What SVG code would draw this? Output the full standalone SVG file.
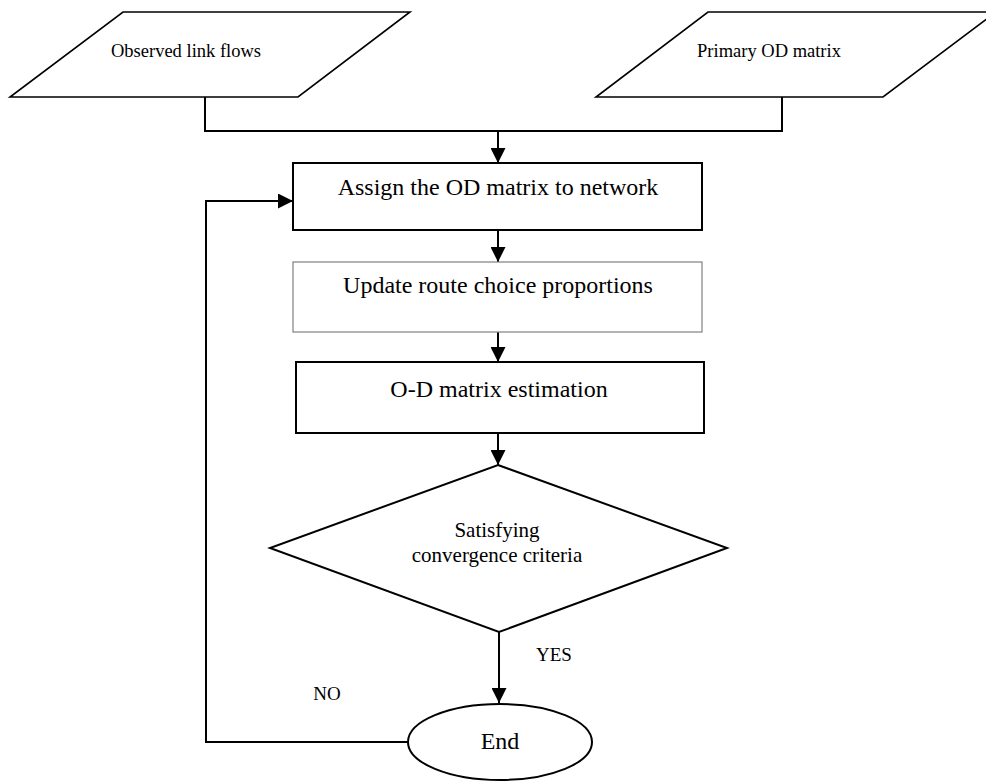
<svg xmlns="http://www.w3.org/2000/svg" width="986" height="781" viewBox="0 0 986 781">
<style>
.shape{fill:#fff;stroke:#000;stroke-width:2}
.para{fill:#fff;stroke:#000;stroke-width:1.6}
.thin{fill:#fff;stroke:#808080;stroke-width:1.2}
.conn{fill:none;stroke:#000;stroke-width:2}
text{font-family:"Liberation Serif","Times New Roman",serif;fill:#000;text-anchor:middle}
.small{font-size:18.5px}
.big{font-size:24px}
.mid{font-size:21px}
.lbl{font-size:19px}
</style>
<defs>
<marker id="ah" viewBox="0 0 15 15" refX="15" refY="7.5" markerWidth="15" markerHeight="15" markerUnits="userSpaceOnUse" orient="auto">
<path d="M0,0 L15,7.5 L0,15 Z" fill="#000"/>
</marker>
</defs>
<g id="connectors">
<path class="conn" d="M205,97 V131 H782 V97"/>
<path class="conn" d="M498,131 V163" marker-end="url(#ah)"/>
<path class="conn" d="M498,230 V262" marker-end="url(#ah)"/>
<path class="conn" d="M498,332 V362" marker-end="url(#ah)"/>
<path class="conn" d="M498,434 V465" marker-end="url(#ah)"/>
<path class="conn" d="M499,632 V703" marker-end="url(#ah)"/>
<path class="conn" d="M408,742 H206 V201 H293" marker-end="url(#ah)"/>
</g>
<g id="observed">
<polygon class="para" points="123,12 410,12 298,97 10,97"/>
<text class="small" x="186" y="57">Observed link flows</text>
</g>
<g id="primary">
<polygon class="para" points="708,12 996,12 883,97 596,97"/>
<text class="small" x="769" y="57">Primary OD matrix</text>
</g>
<g id="assign">
<rect class="shape" x="293" y="163" width="409" height="67"/>
<text class="big" x="498" y="195">Assign the OD matrix to network</text>
</g>
<g id="update">
<rect class="thin" x="293" y="262" width="409" height="70"/>
<text class="big" x="498" y="293">Update route choice proportions</text>
</g>
<g id="estimation">
<rect class="shape" x="296" y="362" width="408" height="71"/>
<text class="big" x="499" y="397">O-D matrix estimation</text>
</g>
<g id="decision">
<polygon class="shape" points="498,465 727,548 499,632 270,548"/>
<text class="mid" x="497" y="537">Satisfying</text>
<text class="mid" x="497" y="562">convergence criteria</text>
</g>
<g id="end">
<ellipse class="shape" cx="500" cy="742" rx="92" ry="38"/>
<text class="big" x="500" y="749">End</text>
</g>
<g id="labels">
<text class="lbl" x="554" y="661">YES</text>
<text class="lbl" x="327" y="700">NO</text>
</g>
</svg>
